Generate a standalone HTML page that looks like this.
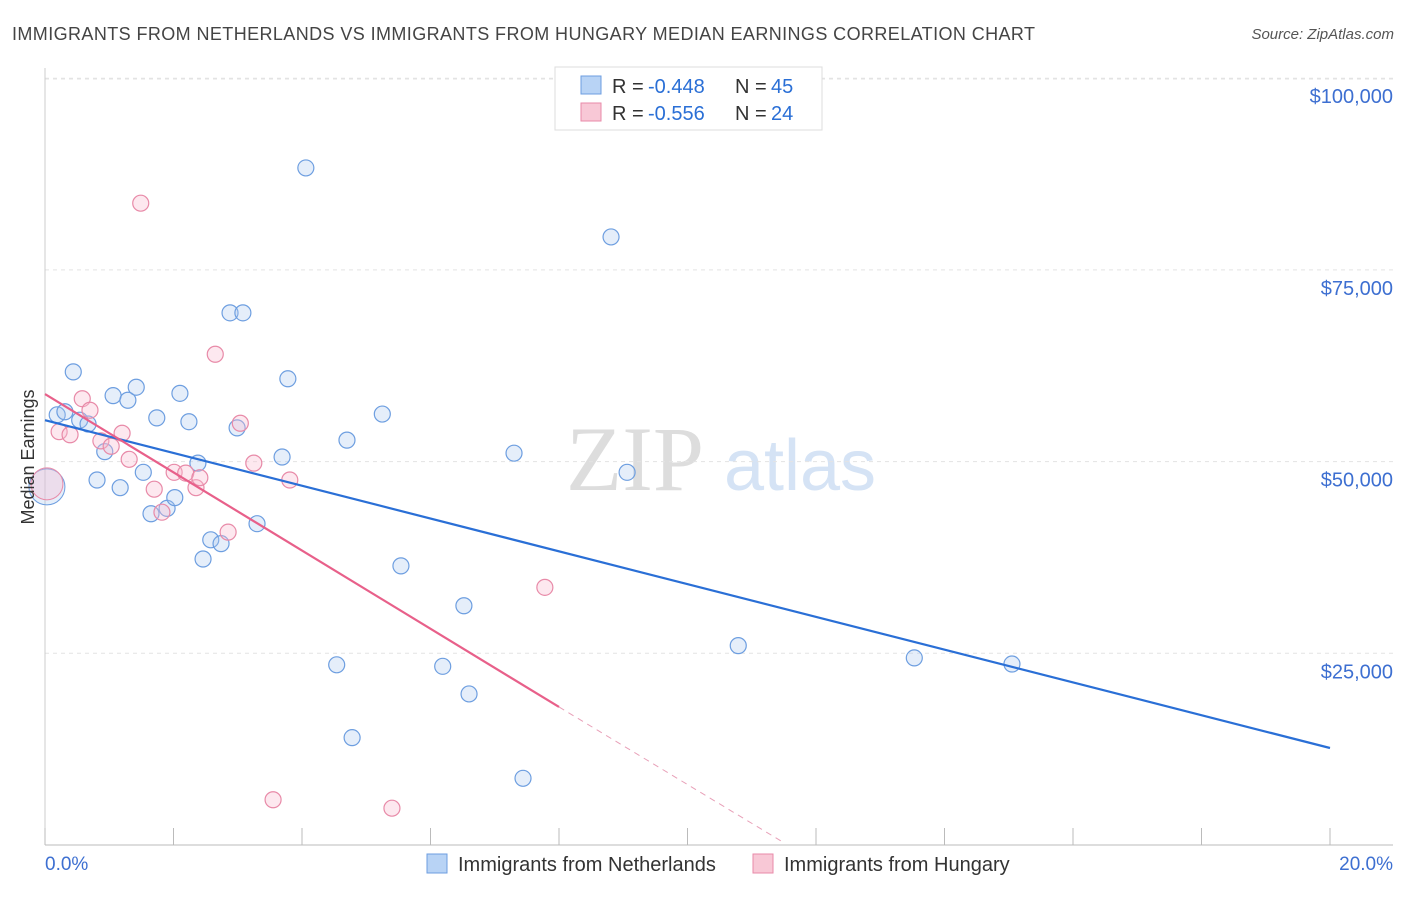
<!DOCTYPE html>
<html><head><meta charset="utf-8"><style>
body{margin:0;background:#fff;font-family:"Liberation Sans",sans-serif;}
svg text{font-family:"Liberation Sans",sans-serif;}
</style></head><body>
<svg id="chart" width="1406" height="892" viewBox="0 0 1406 892">
<text x="12" y="40" font-size="18" fill="#444" textLength="1023">IMMIGRANTS FROM NETHERLANDS VS IMMIGRANTS FROM HUNGARY MEDIAN EARNINGS CORRELATION CHART</text>
<text x="1394" y="39" font-size="15" fill="#555" font-style="italic" text-anchor="end">Source: ZipAtlas.com</text>
<g>
<text x="635" y="490" font-size="92" fill="#ddd" text-anchor="middle" style="font-family:'Liberation Serif',serif">ZIP</text>
<text x="800" y="490" font-size="72" fill="#d5e3f5" text-anchor="middle">atlas</text>
</g>
<g id="grid"></g>
<g id="axes"></g>
<g id="marks"></g>
<text transform="translate(34,457) rotate(-90)" font-size="18" fill="#333" text-anchor="middle">Median Earnings</text>
<g>
<rect x="555" y="67" width="267" height="63" fill="#fff" stroke="#ddd"/>
<rect x="581" y="76" width="20" height="18" fill="#b8d3f5" stroke="#6d9ee0"/>
<text x="612" y="93" font-size="20" fill="#333">R =</text>
<text x="648" y="93" font-size="20" fill="#2a6fd6">-0.448</text>
<text x="735" y="93" font-size="20" fill="#333">N =</text>
<text x="771" y="93" font-size="20" fill="#2a6fd6">45</text>
<rect x="581" y="103" width="20" height="18" fill="#f8c8d6" stroke="#e88aa8"/>
<text x="612" y="120" font-size="20" fill="#333">R =</text>
<text x="648" y="120" font-size="20" fill="#2a6fd6">-0.556</text>
<text x="735" y="120" font-size="20" fill="#333">N =</text>
<text x="771" y="120" font-size="20" fill="#2a6fd6">24</text>
</g>
<g>
<rect x="427" y="854" width="20" height="19" fill="#b8d3f5" stroke="#6d9ee0"/>
<text x="458" y="871" font-size="20" fill="#333">Immigrants from Netherlands</text>
<rect x="753" y="854" width="20" height="19" fill="#f8c8d6" stroke="#e88aa8"/>
<text x="784" y="871" font-size="20" fill="#333">Immigrants from Hungary</text>
</g>
</svg>
<script>
const yTicks=[25000,50000,75000,100000];
const yTickLabels=["$25,000","$50,000","$75,000","$100,000"];
const xTicks=[0,2,4,6,8,10,12,14,16,18,20];
const xEndLabels=["0.0%","20.0%"];
const nlX=[0.19,0.31,0.44,0.54,0.67,0.81,0.93,1.06,1.17,1.29,1.42,1.53,1.65,1.74,1.90,2.02,2.10,2.24,2.38,2.46,2.58,2.74,2.88,2.99,3.08,3.30,3.69,3.78,4.06,4.54,4.70,4.78,5.25,5.54,6.19,6.52,6.60,7.30,7.44,8.81,9.06,10.79,13.53,15.05];
const nlY=[56.1,56.5,61.7,55.4,54.9,47.6,51.3,58.6,46.6,58.0,59.7,48.6,43.2,55.7,43.9,45.3,58.9,55.2,49.8,37.3,39.8,39.3,69.4,54.4,69.4,41.9,50.6,60.8,88.3,23.5,52.8,14.0,56.2,36.4,23.3,31.2,19.7,51.1,8.7,79.3,48.6,26.0,24.4,23.6];
const huX=[0.22,0.39,0.58,0.70,0.87,1.03,1.20,1.31,1.49,1.70,1.82,2.01,2.19,2.35,2.41,2.65,2.85,3.04,3.25,3.55,3.81,5.40,7.78];
const huY=[53.9,53.5,58.2,56.7,52.7,52.0,53.7,50.3,83.7,46.4,43.4,48.6,48.5,46.6,47.9,64.0,40.8,55.0,49.8,5.9,47.6,4.8,33.6];
const bigX=[0.03,0.03];
const bigY=[46.7,47.1];
const nlTrend=[[0,55.4],[20,12.65]];
const huTrendSolid=[[0,58.8],[8.0,18.0]];
const huTrendDash=[[8.0,18.0],[11.5,0.3]];

const NS="http://www.w3.org/2000/svg";
const sx=v=>45+v*64.25;
const sy=v=>845-v/25000*191.7;
const syk=v=>sy(v*1000);
function mk(tag,attrs,parent){const e=document.createElementNS(NS,tag);for(const k in attrs)e.setAttribute(k,attrs[k]);document.getElementById(parent).appendChild(e);return e;}
yTicks.forEach((t,i)=>{
 const g=mk('line',{x1:45,x2:1393,y1:sy(t),y2:sy(t),stroke:'#e3e3e3','stroke-dasharray':'4,4'},'grid');
 
 
 const l=mk('text',{x:1393,y:sy(t)+25,'font-size':20,fill:'#3d6fd1','text-anchor':'end'},'axes');
 l.textContent=yTickLabels[i];
 
 
});
const topGrid=mk('line',{x1:45,x2:1393,y1:79,y2:79,stroke:'#e3e3e3','stroke-dasharray':'4,4'},'grid');


const ax=mk('line',{x1:45,x2:1393,y1:845,y2:845,stroke:'#bbb'},'axes');


const yax=mk('line',{x1:45,x2:45,y1:68,y2:845,stroke:'#ccc'},'axes');


xTicks.forEach(t=>{
 const k=mk('line',{x1:sx(t),x2:sx(t),y1:828,y2:845,stroke:'#bbb'},'axes');
 
 
});
const xl0=mk('text',{x:45,y:870,'font-size':19,fill:'#3d6fd1'},'axes');xl0.textContent=xEndLabels[0];


const xl1=mk('text',{x:1393,y:870,'font-size':19,fill:'#3d6fd1','text-anchor':'end'},'axes');xl1.textContent=xEndLabels[1];


nlX.forEach((x,i)=>{
 const c=mk('circle',{cx:sx(x),cy:syk(nlY[i]),r:8,fill:'rgba(170,200,240,0.3)',stroke:'#6d9ee0','stroke-width':1.2},'marks');
 
 
});
huX.forEach((x,i)=>{
 const c=mk('circle',{cx:sx(x),cy:syk(huY[i]),r:8,fill:'rgba(248,190,210,0.35)',stroke:'#e88aa8','stroke-width':1.2},'marks');
 
 
});
const b1=mk('circle',{cx:sx(bigX[0]),cy:syk(bigY[0]),r:18,fill:'rgba(170,200,240,0.3)',stroke:'#6d9ee0'},'marks');


const b2=mk('circle',{cx:sx(bigX[1]),cy:syk(bigY[1]),r:16,fill:'rgba(248,190,210,0.35)',stroke:'#e88aa8'},'marks');


const t1=mk('line',{x1:sx(nlTrend[0][0]),y1:syk(nlTrend[0][1]),x2:sx(nlTrend[1][0]),y2:syk(nlTrend[1][1]),stroke:'#2a6fd6','stroke-width':2.2},'marks');


const t2=mk('line',{x1:sx(huTrendSolid[0][0]),y1:syk(huTrendSolid[0][1]),x2:sx(huTrendSolid[1][0]),y2:syk(huTrendSolid[1][1]),stroke:'#e8608a','stroke-width':2.2},'marks');


const t3=mk('line',{x1:sx(huTrendDash[0][0]),y1:syk(huTrendDash[0][1]),x2:sx(huTrendDash[1][0]),y2:syk(huTrendDash[1][1]),stroke:'#e8a0b8','stroke-width':1,'stroke-dasharray':'6,5'},'marks');


</script>
</body></html>
